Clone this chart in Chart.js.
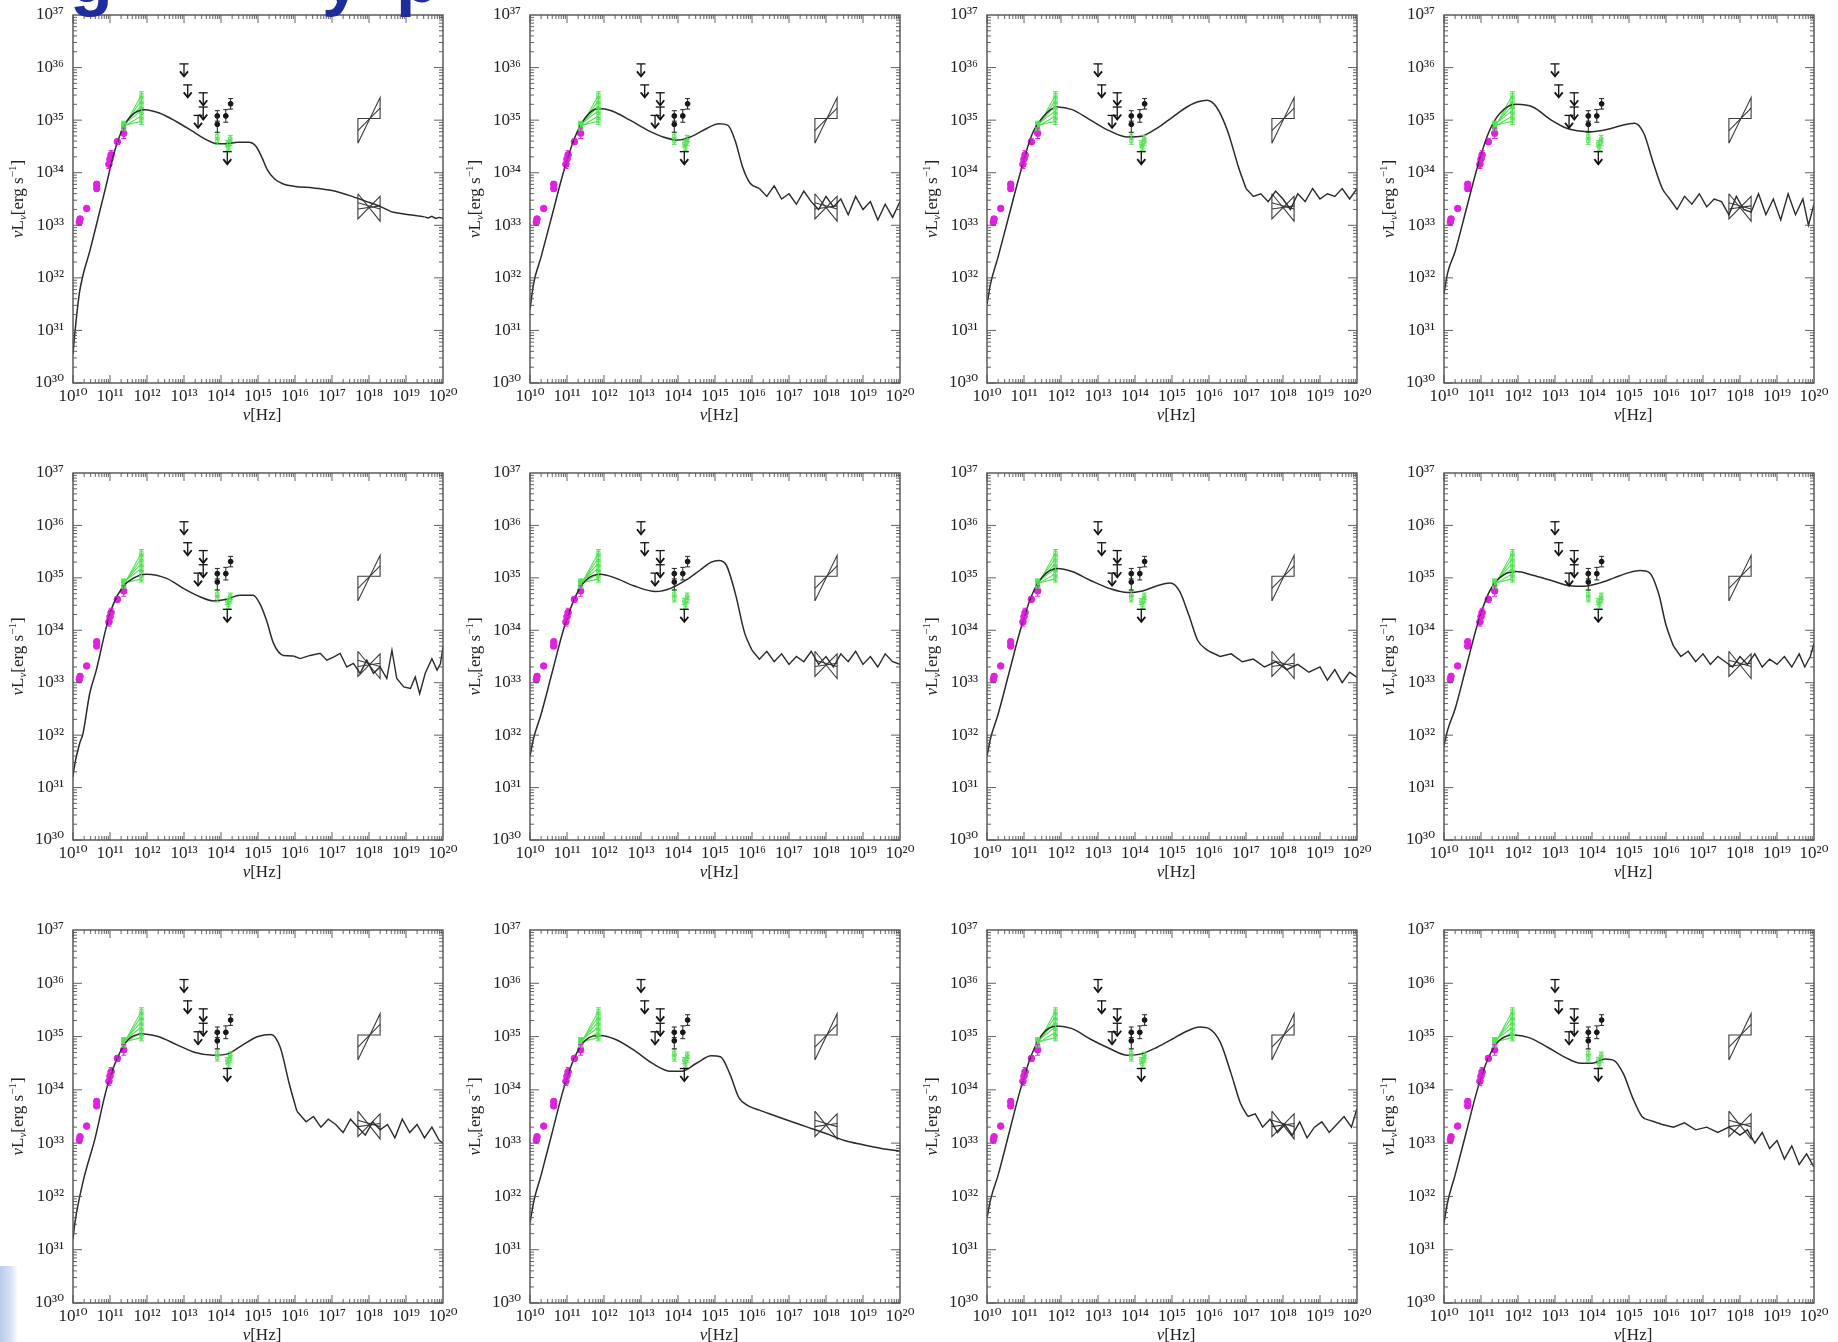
<!DOCTYPE html>
<html>
<head>
<meta charset="utf-8">
<script src="https://cdn.jsdelivr.net/npm/chart.js@4.4.1/dist/chart.umd.min.js"></script>
<style>
  html, body { margin: 0; padding: 0; background: #fff; }
  body { width: 1838px; height: 1342px; position: relative; overflow: hidden; }
  canvas { position: absolute; }
  .corner { position: absolute; left: 0; top: 1266px; width: 18px; height: 76px;
            background: linear-gradient(90deg, #b9cbe9 0%, #d7e2f3 60%, #ffffff 100%); }
  .heading { position: absolute; left: 0; top: 0; width: 1838px; height: 22px; overflow: hidden; z-index: 2; }
  .heading span { position: absolute; top: -57px; font: bold 70px/70px "Liberation Sans", Arial, sans-serif; color: #1f2d9c; }
</style>
</head>
<body>
<div class="heading"><span style="left:70px">g</span><span style="left:322px">y</span><span style="left:396px">p</span></div>
<div class="corner"></div>
<script>
// ---------- axis ticks (log10 of frequency / luminosity) ----------
const NU_TICKS = [10, 11, 12, 13, 14, 15, 16, 17, 18, 19, 20];
const L_TICKS  = [30, 31, 32, 33, 34, 35, 36, 37];

// ---------- observed photometry, common to every panel (log10 nu, log10 nuL_nu) ----------
const radioNu  = [10.17, 10.19, 10.37, 10.64, 10.64, 10.97, 11.00, 11.03, 11.20, 11.37];
const radioL   = [33.06, 33.12, 33.32, 33.70, 33.78, 34.16, 34.26, 34.34, 34.59, 34.75];
const radioErr = [0.04, 0.04, 0.03, 0.05, 0.05, 0.08, 0.08, 0.08, 0.05, 0.10];

// sub-mm spectra: each line joins a point at 2.3e11 Hz to one at 7e11 Hz
const submmNu    = [11.37, 11.85];
const submmLeft  = [34.86, 34.88, 34.90, 34.92, 34.88, 34.90];
const submmRight = [35.48, 35.38, 35.28, 35.18, 35.08, 34.98];
const submmErr   = 0.06;

// near-IR fluxes (green) and detections (black)
const nirNu   = [13.90, 13.90, 14.17, 14.20, 14.25, 14.25];
const nirL    = [34.70, 34.60, 34.55, 34.48, 34.65, 34.58];
const nirErr  = [0.06, 0.06, 0.06, 0.06, 0.06, 0.06];
const detNu   = [13.90, 13.90, 14.13, 14.26];
const detL    = [35.08, 34.92, 35.08, 35.31];
const detErr  = [0.10, 0.15, 0.12, 0.10];

// upper limits (mid-IR / near-IR)
const limNu = [13.00, 13.10, 13.52, 13.52, 13.38, 14.17];
const limL  = [36.07, 35.67, 35.52, 35.25, 35.09, 34.40];

// X-ray power-law bowties (band edges at 5e17 and 2e18 Hz)
const bowNu = [17.70, 18.30];
const hardEdgeLeft  = [34.56, 35.03];   // low / high end at left edge
const hardEdgeRight = [35.03, 35.43];   // low / high end at right edge
const hardFit       = [34.80, 35.23];
const softEdgeLeft  = [33.12, 33.60];
const softEdgeRight = [33.08, 33.55];
const softFitA      = [33.43, 33.31];
const softFitB      = [33.31, 33.37];

// ---------- model SEDs, one per panel ----------
const m11nu = [10.0,10.03,10.17,10.27,10.45,10.7,10.9,11.1,11.35,11.6,11.95,12.35,12.8,13.25,13.6,13.9,14.15,14.45,14.75,14.95,15.1,15.25,15.45,15.7,16.0,16.5,17.0,17.5,17.9,18.3,18.6,18.9,19.1,19.3,19.5,19.6,19.7,19.8,19.9,20.0];
const m11L  = [30.55,30.8,31.7,32.05,32.5,33.2,33.77,34.35,34.85,35.1,35.2,35.13,34.97,34.78,34.63,34.55,34.55,34.58,34.58,34.5,34.3,34.06,33.88,33.78,33.74,33.71,33.66,33.56,33.46,33.36,33.26,33.22,33.2,33.18,33.16,33.14,33.17,33.13,33.15,33.13];

const m12nu = [10.0,10.1,10.3,10.6,10.9,11.2,11.5,11.85,12.2,12.7,13.2,13.6,14.0,14.4,14.8,15.1,15.35,15.55,15.75,15.95,16.2,16.4,16.6,16.8,17.0,17.2,17.4,17.6,17.8,18.0,18.2,18.4,18.6,18.8,19.0,19.2,19.4,19.6,19.8,20.0];
const m12L  = [31.4,31.9,32.4,33.2,34.0,34.65,35.05,35.22,35.18,35.0,34.8,34.68,34.62,34.7,34.85,34.93,34.9,34.6,34.1,33.8,33.7,33.55,33.75,33.5,33.6,33.4,33.65,33.45,33.3,33.55,33.35,33.5,33.2,33.55,33.3,33.45,33.1,33.4,33.15,33.45];

const m13nu = [10.0,10.1,10.3,10.6,10.9,11.2,11.5,11.9,12.3,12.8,13.3,13.8,14.2,14.6,15.0,15.4,15.7,15.95,16.2,16.5,16.8,17.0,17.2,17.4,17.6,17.8,18.0,18.2,18.4,18.6,18.8,19.0,19.2,19.4,19.6,19.8,20.0];
const m13L  = [31.5,31.9,32.4,33.2,34.0,34.7,35.05,35.25,35.2,35.0,34.8,34.68,34.7,34.85,35.05,35.25,35.35,35.38,35.25,34.8,34.1,33.7,33.55,33.6,33.45,33.65,33.5,33.3,33.6,33.45,33.7,33.5,33.6,33.55,33.7,33.5,33.7];

const m14nu = [10.0,10.1,10.3,10.6,10.9,11.2,11.5,11.95,12.4,12.9,13.3,13.6,14.0,14.4,14.8,15.15,15.4,15.65,15.9,16.1,16.3,16.5,16.7,16.9,17.1,17.3,17.5,17.7,17.9,18.1,18.3,18.5,18.7,18.9,19.1,19.3,19.5,19.7,19.85,20.0];
const m14L  = [31.7,32.1,32.5,33.3,34.1,34.75,35.12,35.3,35.25,35.0,34.85,34.8,34.78,34.82,34.9,34.94,34.75,34.2,33.7,33.5,33.3,33.55,33.4,33.6,33.35,33.5,33.45,33.2,33.55,33.3,33.25,33.6,33.2,33.5,33.1,33.6,33.2,33.5,33.0,33.4];

const m21nu = [10.0,10.02,10.18,10.27,10.45,10.63,10.9,11.08,11.35,11.62,11.99,12.53,12.98,13.43,13.79,14.15,14.51,14.87,15.05,15.23,15.42,15.69,15.96,16.14,16.41,16.68,16.86,17.04,17.22,17.4,17.58,17.76,17.94,18.12,18.3,18.48,18.62,18.75,18.94,19.12,19.25,19.37,19.52,19.7,19.84,19.93,20.0];
const m21L  = [31.2,31.33,31.84,32.03,32.79,33.24,34.06,34.48,34.83,34.99,35.07,34.99,34.8,34.64,34.56,34.59,34.67,34.67,34.51,34.19,33.75,33.52,33.51,33.46,33.52,33.56,33.43,33.49,33.56,33.3,33.37,33.18,33.43,33.18,33.3,33.08,33.62,33.08,32.92,32.89,33.11,32.79,33.18,33.46,33.24,33.36,33.68];

const m22nu = [10.0,10.1,10.3,10.6,10.9,11.2,11.5,11.9,12.3,12.8,13.4,13.8,14.2,14.6,14.9,15.1,15.3,15.55,15.8,16.0,16.2,16.4,16.6,16.8,17.0,17.2,17.4,17.6,17.8,18.0,18.2,18.4,18.6,18.8,19.0,19.2,19.4,19.6,19.8,20.0];
const m22L  = [31.6,31.95,32.4,33.2,34.0,34.6,34.95,35.07,35.0,34.85,34.74,34.8,34.95,35.15,35.3,35.33,35.25,34.7,33.95,33.62,33.45,33.6,33.4,33.55,33.35,33.5,33.4,33.6,33.35,33.5,33.3,33.55,33.4,33.6,33.35,33.5,33.3,33.55,33.4,33.35];

const m23nu = [10.0,10.1,10.3,10.6,10.9,11.2,11.5,11.9,12.3,12.8,13.3,13.8,14.2,14.6,14.95,15.2,15.45,15.7,16.0,16.3,16.6,16.9,17.2,17.5,17.8,18.1,18.4,18.7,19.0,19.2,19.4,19.6,19.8,20.0];
const m23L  = [31.6,31.95,32.4,33.2,34.0,34.65,35.02,35.18,35.12,34.95,34.8,34.72,34.75,34.85,34.9,34.75,34.3,33.8,33.6,33.5,33.55,33.4,33.45,33.3,33.4,33.25,33.35,33.2,33.3,33.05,33.25,33.0,33.2,33.1];

const m24nu = [10.0,10.1,10.3,10.6,10.9,11.2,11.5,11.95,12.4,12.9,13.4,13.8,14.2,14.6,15.0,15.3,15.55,15.8,16.0,16.2,16.4,16.6,16.8,17.0,17.2,17.4,17.6,17.8,18.0,18.2,18.4,18.6,18.8,19.0,19.2,19.4,19.6,19.75,19.9,20.0];
const m24L  = [31.8,32.1,32.5,33.3,34.1,34.7,35.0,35.12,35.05,34.95,34.85,34.84,34.9,35.0,35.1,35.14,35.1,34.7,34.1,33.7,33.5,33.6,33.4,33.55,33.35,33.5,33.4,33.3,33.5,33.35,33.55,33.3,33.45,33.35,33.5,33.3,33.55,33.3,33.5,33.75];

const m31nu = [10.0,10.05,10.28,10.6,10.9,11.2,11.5,11.9,12.3,12.8,13.3,13.8,14.2,14.6,15.0,15.35,15.6,15.85,16.05,16.3,16.5,16.7,16.9,17.1,17.3,17.5,17.7,17.9,18.1,18.3,18.5,18.7,18.9,19.1,19.3,19.5,19.7,19.9,20.0];
const m31L  = [31.2,31.5,32.3,33.1,34.0,34.6,34.95,35.05,35.0,34.85,34.7,34.65,34.68,34.85,35.0,35.04,34.8,34.1,33.6,33.4,33.5,33.3,33.45,33.35,33.2,33.45,33.3,33.15,33.4,33.25,33.35,33.1,33.45,33.2,33.35,33.1,33.3,33.05,33.0];

const m32nu = [10.0,10.1,10.3,10.6,10.9,11.2,11.5,11.9,12.3,12.8,13.3,13.8,14.1,14.5,14.9,15.15,15.4,15.65,15.9,16.2,16.6,17.0,17.5,18.0,18.5,19.0,19.5,20.0];
const m32L  = [31.5,31.9,32.4,33.2,34.0,34.6,34.93,35.02,34.95,34.75,34.5,34.35,34.35,34.5,34.64,34.62,34.3,33.85,33.7,33.62,33.52,33.42,33.3,33.18,33.05,32.97,32.9,32.85];

const m33nu = [10.0,10.1,10.3,10.6,10.9,11.2,11.5,11.9,12.3,12.8,13.3,13.8,14.2,14.6,15.0,15.4,15.75,16.0,16.3,16.6,16.85,17.05,17.25,17.45,17.65,17.85,18.05,18.25,18.45,18.65,18.85,19.05,19.25,19.45,19.65,19.85,20.0];
const m33L  = [31.6,31.95,32.4,33.2,34.0,34.65,35.05,35.2,35.15,34.95,34.78,34.65,34.68,34.8,34.95,35.1,35.18,35.15,34.9,34.3,33.75,33.5,33.55,33.3,33.45,33.2,33.35,33.15,33.4,33.1,33.3,33.4,33.2,33.35,33.5,33.3,33.65];

const m34nu = [10.0,10.1,10.3,10.6,10.9,11.2,11.5,11.9,12.3,12.8,13.3,13.7,14.0,14.35,14.6,14.85,15.1,15.35,15.6,15.9,16.2,16.5,16.8,17.1,17.4,17.7,18.0,18.2,18.4,18.6,18.8,19.0,19.2,19.4,19.6,19.8,20.0];
const m34L  = [31.5,31.9,32.4,33.2,34.0,34.6,34.93,35.03,34.98,34.8,34.6,34.5,34.5,34.58,34.55,34.3,33.85,33.5,33.42,33.35,33.3,33.38,33.25,33.3,33.2,33.3,33.15,33.25,33.0,33.2,32.9,33.05,32.7,32.95,32.6,32.8,32.55];

const MODELS = [
  [[m11nu, m11L], [m12nu, m12L], [m13nu, m13L], [m14nu, m14L]],
  [[m21nu, m21L], [m22nu, m22L], [m23nu, m23L], [m24nu, m24L]],
  [[m31nu, m31L], [m32nu, m32L], [m33nu, m33L], [m34nu, m34L]]
];
// frequency (log10 Hz) above which each model is drawn as a jagged Monte-Carlo tail
const NOISY_FROM = [
  [19.4, 16.0, 17.0, 16.0],
  [15.9, 16.0, 16.0, 16.2],
  [16.0, 20.0, 17.0, 15.6]
];

// ---------- page layout ----------
const COL_LEFT = [73, 530, 987, 1444];
const ROW_TOP  = [15, 473, 930];
const ROW_H    = [368, 367, 373];
const PLOT_W   = 370;
const MARGIN_L = 73, MARGIN_T = 15, CANVAS_W = 457;

const SERIF = '"Liberation Serif", "DejaVu Serif", serif';
const MAGENTA = '#e022e0';
const GREEN = '#55e055';
const INK = '#3a3a3a';

const SUP = {'0':'\u2070','1':'\u00b9','2':'\u00b2','3':'\u00b3','4':'\u2074','5':'\u2075','6':'\u2076','7':'\u2077','8':'\u2078','9':'\u2079'};
const pow10 = e => '10' + String(e).split('').map(c => SUP[c]).join('');
const pts = (xs, ys) => xs.map((v, i) => ({x: v, y: ys[i]}));

function seg(ctx, x1, y1, x2, y2) { ctx.beginPath(); ctx.moveTo(x1, y1); ctx.lineTo(x2, y2); ctx.stroke(); }

// draws a run of [text, font, baseline shift] pieces starting at (x, y)
function drawRun(ctx, parts, x, y) {
  parts.forEach(p => { ctx.font = p[1]; ctx.fillText(p[0], x, y + p[2]); x += ctx.measureText(p[0]).width; });
}
function runWidth(ctx, parts) {
  let w = 0;
  parts.forEach(p => { ctx.font = p[1]; w += ctx.measureText(p[0]).width; });
  return w;
}

// frame with inward ticks on all four sides, plus the axis titles
const sedFrame = {
  id: 'sedFrame',
  afterDraw(chart) {
    const {ctx, chartArea: a, scales: {x, y}} = chart;
    ctx.save();
    ctx.strokeStyle = '#505050';
    ctx.lineWidth = 1.4;
    ctx.strokeRect(a.left, a.top, a.right - a.left, a.bottom - a.top);
    ctx.lineWidth = 0.9;
    for (let d = NU_TICKS[0]; d < NU_TICKS[NU_TICKS.length - 1]; d++) {
      for (let m = 1; m <= 9; m++) {
        const px = x.getPixelForValue(d + Math.log10(m));
        const len = m === 1 ? 8 : 4;
        seg(ctx, px, a.bottom, px, a.bottom - len);
        seg(ctx, px, a.top, px, a.top + len);
      }
    }
    for (let d = L_TICKS[0]; d < L_TICKS[L_TICKS.length - 1]; d++) {
      for (let m = 1; m <= 9; m++) {
        const py = y.getPixelForValue(d + Math.log10(m));
        const len = m === 1 ? 9 : 4;
        seg(ctx, a.left, py, a.left + len, py);
        seg(ctx, a.right, py, a.right - len, py);
      }
    }
    // axis titles
    ctx.fillStyle = '#222';
    ctx.textBaseline = 'middle';
    ctx.textAlign = 'left';
    const big = '17px ' + SERIF, ital = 'italic 17px ' + SERIF, small = 'italic 11px ' + SERIF, sup = '11px ' + SERIF;
    const xt = [['\u03bd', ital, 0], ['[Hz]', big, 0]];
    drawRun(ctx, xt, (a.left + a.right) / 2 - runWidth(ctx, xt) / 2 + 4, a.bottom + 33);
    ctx.translate(19, (a.top + a.bottom) / 2);
    ctx.rotate(-Math.PI / 2);
    const yt = [['\u03bd', ital, 0], ['L', big, 0], ['\u03bd', small, 4], ['[erg s', big, 0], ['\u22121', sup, -6], [']', big, 0]];
    drawRun(ctx, yt, -runWidth(ctx, yt) / 2, 0);
    ctx.restore();
  }
};

// vertical error bars and upper-limit arrows
const errorMarks = {
  id: 'errorMarks',
  afterDatasetsDraw(chart) {
    const {ctx, scales: {y}} = chart;
    chart.data.datasets.forEach((ds, i) => {
      const meta = chart.getDatasetMeta(i);
      if (ds.yErr) {
        ctx.save();
        ctx.strokeStyle = ds.errColor;
        ctx.lineWidth = 1;
        meta.data.forEach((el, j) => {
          const v = ds.data[j].y, e = Array.isArray(ds.yErr) ? ds.yErr[j] : ds.yErr;
          const t = y.getPixelForValue(v + e), b = y.getPixelForValue(v - e);
          seg(ctx, el.x, t, el.x, b);
          seg(ctx, el.x - 2.5, t, el.x + 2.5, t);
          seg(ctx, el.x - 2.5, b, el.x + 2.5, b);
        });
        ctx.restore();
      }
      if (ds.upperLimit) {
        ctx.save();
        ctx.strokeStyle = '#111';
        meta.data.forEach(el => {
          const X = el.x, Y = el.y;
          ctx.lineWidth = 1.3;
          seg(ctx, X - 4.5, Y, X + 4.5, Y);
          seg(ctx, X, Y, X, Y + 12);
          ctx.lineWidth = 1.8;
          ctx.beginPath();
          ctx.moveTo(X - 4, Y + 7.5); ctx.lineTo(X, Y + 12.5); ctx.lineTo(X + 4, Y + 7.5);
          ctx.stroke();
        });
        ctx.restore();
      }
    });
  }
};

function lineSet(data, color, width) {
  return {data, showLine: true, borderColor: color, borderWidth: width, pointRadius: 0, fill: false, tension: 0};
}

function buildPanel(r, c) {
  const canvas = document.createElement('canvas');
  const H = r < 2 ? 458 : 1342 - (ROW_TOP[r] - MARGIN_T);
  canvas.width = CANVAS_W; canvas.height = H;
  canvas.style.width = CANVAS_W + 'px'; canvas.style.height = H + 'px';
  canvas.style.left = (COL_LEFT[c] - MARGIN_L) + 'px';
  canvas.style.top = (ROW_TOP[r] - MARGIN_T) + 'px';
  document.body.appendChild(canvas);
  const xAxisH = H - MARGIN_T - ROW_H[r];
  const [mNu, mL] = MODELS[r][c];
  const model = pts(mNu, mL);
  // the smooth part and the jagged tail share the point where they meet
  let k = model.findIndex(p => p.x >= NOISY_FROM[r][c]);
  if (k < 0) k = model.length - 1;

  const datasets = [];
  datasets.push(Object.assign(lineSet(model.slice(0, k + 1), '#2b2b2b', 1.5), {cubicInterpolationMode: 'monotone'}));
  datasets.push(lineSet(model.slice(k), '#2b2b2b', 1.4));
  // X-ray bowties
  datasets.push(lineSet(pts([bowNu[0], bowNu[1], bowNu[1], bowNu[0], bowNu[0]],
                            [hardEdgeLeft[0], hardEdgeRight[1], hardEdgeRight[0], hardEdgeLeft[1], hardEdgeLeft[0]]), INK, 1.1));
  datasets.push(lineSet(pts(bowNu, hardFit), INK, 1.1));
  datasets.push(lineSet(pts([bowNu[0], bowNu[1], bowNu[1], bowNu[0], bowNu[0]],
                            [softEdgeLeft[1], softEdgeRight[0], softEdgeRight[1], softEdgeLeft[0], softEdgeLeft[1]]), INK, 1.1));
  datasets.push(lineSet(pts(bowNu, softFitA), INK, 1.1));
  datasets.push(lineSet(pts(bowNu, softFitB), INK, 1.1));
  // sub-mm spectra
  submmLeft.forEach((v, j) => {
    datasets.push({data: pts(submmNu, [v, submmRight[j]]), showLine: true, borderColor: GREEN, borderWidth: 1.1,
                   pointStyle: 'rect', pointRadius: 2.2, pointBorderColor: GREEN, pointBackgroundColor: 'rgba(0,0,0,0)',
                   pointBorderWidth: 1, yErr: submmErr, errColor: GREEN});
  });
  // near-IR photometry
  datasets.push({data: pts(nirNu, nirL), pointStyle: 'rect', pointRadius: 2.2, pointBorderColor: GREEN,
                 pointBackgroundColor: 'rgba(0,0,0,0)', pointBorderWidth: 1, yErr: nirErr, errColor: GREEN});
  // radio points
  datasets.push({data: pts(radioNu, radioL), pointRadius: 3.3, pointBackgroundColor: MAGENTA,
                 pointBorderColor: MAGENTA, yErr: radioErr, errColor: MAGENTA});
  // near-IR detections
  datasets.push({data: pts(detNu, detL), pointRadius: 2.4, pointBackgroundColor: '#111',
                 pointBorderColor: '#111', yErr: detErr, errColor: '#222'});
  // upper limits
  datasets.push({data: pts(limNu, limL), pointRadius: 0, upperLimit: true});

  new Chart(canvas, {
    type: 'scatter',
    data: {datasets},
    options: {
      responsive: false, animation: false, devicePixelRatio: 1,
      layout: {padding: {left: 0, top: MARGIN_T, right: CANVAS_W - MARGIN_L - PLOT_W, bottom: 0}},
      plugins: {legend: {display: false}, tooltip: {enabled: false}},
      elements: {point: {hoverRadius: 0}},
      scales: {
        x: {
          type: 'linear', min: NU_TICKS[0], max: NU_TICKS[NU_TICKS.length - 1],
          afterBuildTicks: s => { s.ticks = NU_TICKS.map(v => ({value: v})); },
          ticks: {callback: v => pow10(v), font: {family: SERIF, size: 17}, color: '#222',
                  padding: 3, maxRotation: 0, autoSkip: false},
          grid: {display: false, drawTicks: false}, border: {display: false},
          afterFit: s => { s.height = xAxisH; s.paddingLeft = 0; s.paddingRight = 0; }
        },
        y: {
          type: 'linear', min: L_TICKS[0], max: L_TICKS[L_TICKS.length - 1],
          afterBuildTicks: s => { s.ticks = L_TICKS.map(v => ({value: v})); },
          ticks: {callback: v => pow10(v), font: {family: SERIF, size: 17}, color: '#222',
                  padding: 9, autoSkip: false},
          grid: {display: false, drawTicks: false}, border: {display: false},
          afterFit: s => { s.width = MARGIN_L; s.paddingTop = 0; s.paddingBottom = 0; }
        }
      }
    },
    plugins: [sedFrame, errorMarks]
  });
}

for (let r = 0; r < 3; r++) for (let c = 0; c < 4; c++) buildPanel(r, c);
</script>
</body>
</html>
